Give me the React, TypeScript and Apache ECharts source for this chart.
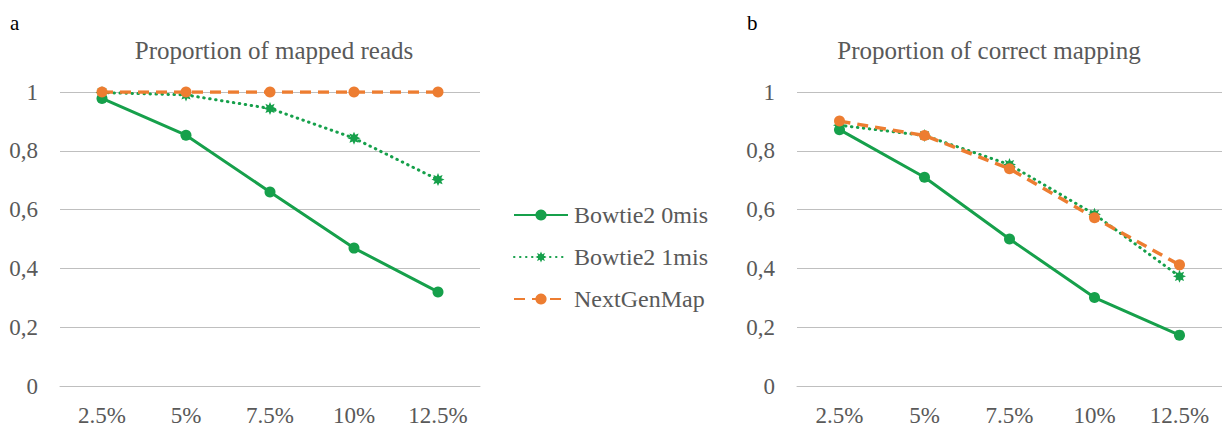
import React, { useEffect, useRef } from "react";
import * as echarts from "echarts";

const categories = ["2.5%", "5%", "7.5%", "10%", "12.5%"];
const seriesNames = ["Bowtie2 0mis", "Bowtie2 1mis", "NextGenMap"];

// Panel a: Proportion of mapped reads
const mappedBowtie0 = [0.978, 0.853, 0.66, 0.469, 0.32];
const mappedBowtie1 = [0.998, 0.99, 0.944, 0.843, 0.702];
const mappedNGM = [1.0, 1.0, 1.0, 1.0, 1.0];

// Panel b: Proportion of correct mapping
const correctBowtie0 = [0.872, 0.71, 0.5, 0.301, 0.173];
const correctBowtie1 = [0.887, 0.852, 0.753, 0.584, 0.373];
const correctNGM = [0.901, 0.852, 0.739, 0.572, 0.412];

const yTicks = [0, 0.2, 0.4, 0.6, 0.8, 1];

const GREEN = "#16A04B";
const ORANGE = "#ED7D31";
const TEXT = "#595959";
const GRIDC = "#BFBFBF";
const FONT = "Liberation Serif";

const STAR =
  "path://M20 10 L15.08 12.11 L17.07 17.07 L12.11 15.08 L10 20 L7.89 15.08 L2.93 17.07 L4.92 12.11 L0 10 L4.92 7.89 L2.93 2.93 L7.89 4.92 L10 0 L12.11 4.92 L17.07 2.93 L15.08 7.89 Z";

function makeSeries(idx: number, data: number[][]) {
  const styles = [
    { lineStyle: { color: GREEN, width: 3, type: "solid" as any }, symbol: "circle", symbolSize: 11, color: GREEN },
    { lineStyle: { color: GREEN, width: 3, type: [0.5, 5.5] as any, cap: "round" as any }, symbol: STAR, symbolSize: 13, color: GREEN },
    { lineStyle: { color: ORANGE, width: 3.5, type: [11, 7] as any }, symbol: "circle", symbolSize: 11, color: ORANGE },
  ];
  return data.map((d, i) => ({
    name: seriesNames[i],
    type: "line",
    xAxisIndex: idx,
    yAxisIndex: idx,
    data: d,
    symbol: styles[i].symbol,
    symbolSize: styles[i].symbolSize,
    itemStyle: { color: styles[i].color },
    lineStyle: styles[i].lineStyle,
    z: 2 + i,
  }));
}

export default function App() {
  const ref = useRef<HTMLDivElement>(null);
  useEffect(() => {
    document.body.style.margin = "0";
    const chart = echarts.init(ref.current!, null, { renderer: "svg" });
    const xAxis = (gridIndex: number) => ({
      type: "category",
      gridIndex,
      data: categories,
      boundaryGap: true,
      axisLine: { show: true, lineStyle: { color: GRIDC, width: 1 } },
      axisTick: { show: false },
      axisLabel: { color: TEXT, fontSize: 23, fontFamily: FONT, margin: 18 },
    });
    const yAxis = (gridIndex: number) => ({
      type: "value",
      gridIndex,
      min: yTicks[0],
      max: yTicks[yTicks.length - 1],
      interval: 0.2,
      axisLine: { show: false },
      axisTick: { show: false },
      splitLine: { show: true, lineStyle: { color: GRIDC, width: 1 } },
      axisLabel: {
        color: TEXT,
        fontSize: 23,
        fontFamily: FONT,
        margin: 22,
        formatter: (v: number) => String(Math.round(v * 10) / 10).replace(".", ","),
      },
    });
    chart.setOption({
      animation: false,
      backgroundColor: "#ffffff",
      grid: [
        { left: 60, right: 742, top: 92, bottom: 42 },
        { left: 797, right: 0, top: 92, bottom: 42 },
      ],
      xAxis: [xAxis(0), xAxis(1)],
      yAxis: [yAxis(0), yAxis(1)],
      legend: {
        orient: "vertical",
        left: 513,
        top: 203,
        padding: 0,
        itemWidth: 54,
        itemHeight: 14,
        itemGap: 18,
        data: seriesNames,
        textStyle: { color: TEXT, fontSize: 24, fontFamily: FONT, padding: [0, 0, 0, 1] },
      },
      graphic: [
        { type: "text", left: 10, top: 12, style: { text: "a", fill: "#000", font: `21px ${FONT}` } },
        { type: "text", left: 747, top: 12, style: { text: "b", fill: "#000", font: `21px ${FONT}` } },
        { type: "text", x: 274, y: 50, style: { text: "Proportion of mapped reads", fill: TEXT, font: `25px ${FONT}`, textAlign: "center", textVerticalAlign: "middle" } },
        { type: "text", x: 989, y: 50, style: { text: "Proportion of correct mapping", fill: TEXT, font: `25px ${FONT}`, textAlign: "center", textVerticalAlign: "middle" } },
      ],
      series: [
        ...makeSeries(0, [mappedBowtie0, mappedBowtie1, mappedNGM]),
        ...makeSeries(1, [correctBowtie0, correctBowtie1, correctNGM]),
      ],
    } as any);
    return () => chart.dispose();
  }, []);
  return <div ref={ref} style={{ width: 1222, height: 428 }} />;
}
